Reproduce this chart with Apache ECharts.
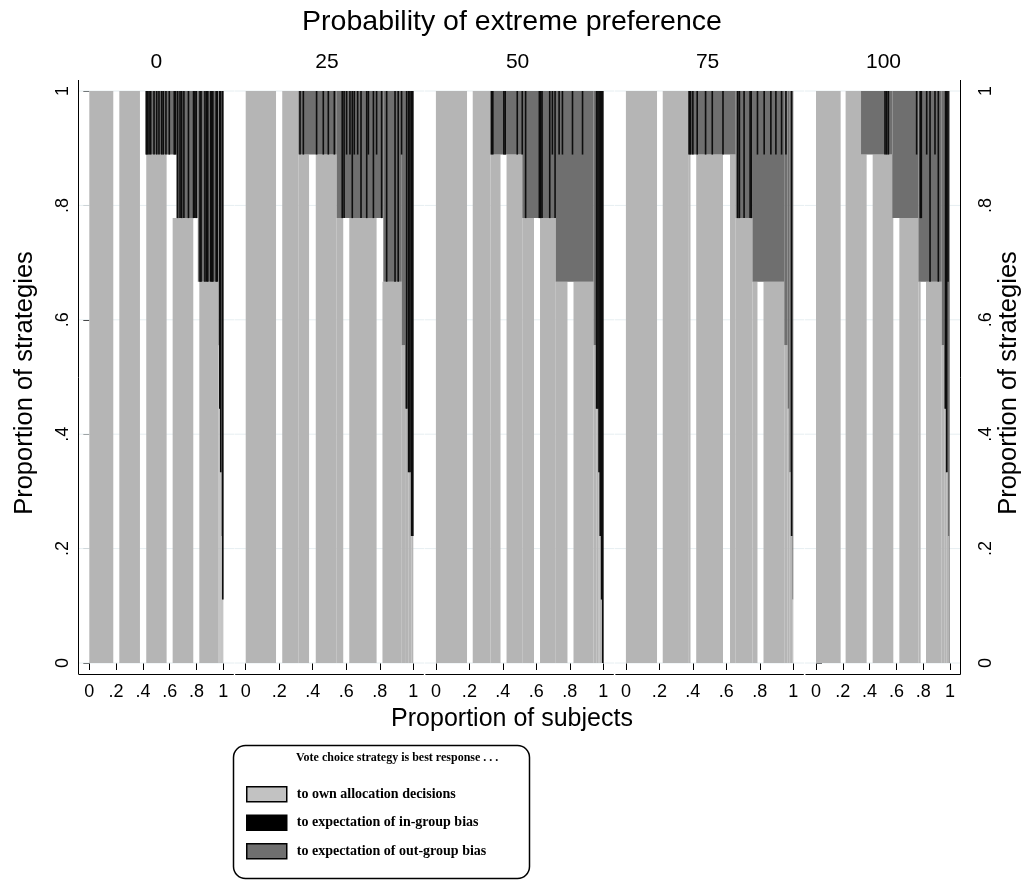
<!DOCTYPE html>
<html>
<head>
<meta charset="utf-8">
<script src="https://cdn.jsdelivr.net/npm/echarts@6.0.0/dist/echarts.min.js"></script>
<style>
html,body{margin:0;padding:0;background:#fff;}
#chart{width:1025px;height:880px;}
</style>
</head>
<body>
<div id="chart"></div>
<script>
// ---------------- data ----------------
const mainTitle = 'Probability of extreme preference';
const panelTitles = ['0', '25', '50', '75', '100'];
const tickValues = [0, 0.2, 0.4, 0.6, 0.8, 1];
const tickLabels = ['0', '.2', '.4', '.6', '.8', '1'];
const xTitle = 'Proportion of subjects';
const yTitle = 'Proportion of strategies';
const legendTitle = 'Vote choice strategy is best response . . .';
const seriesNames = ['to own allocation decisions', 'to expectation of in-group bias', 'to expectation of out-group bias'];
const STRATEGIES = 9;

// own allocation (light): [x from, x to, strategies (of 9)] bar from 0 up to strategies/9
const own0 = [[0,0.179,9],[0.224,0.378,9],[0.425,0.577,8],[0.622,0.776,7],[0.821,0.963,6],[0.963,0.971,5],[0.971,0.978,4],[0.978,0.985,3],[0.985,0.993,2],[0.993,1,1]];
const own25 = [[0,0.181,9],[0.218,0.314,9],[0.314,0.378,8],[0.418,0.543,8],[0.543,0.582,7],[0.618,0.781,7],[0.816,0.931,6],[0.931,0.951,5],[0.951,0.97,4],[0.97,0.99,3],[0.99,1,2]];
const own50 = [[0,0.186,9],[0.22,0.326,9],[0.326,0.386,8],[0.422,0.516,8],[0.516,0.586,7],[0.622,0.716,7],[0.716,0.786,6],[0.822,0.942,6],[0.942,0.958,5],[0.958,0.97,4],[0.97,0.978,3],[0.978,0.986,2],[0.986,0.993,1]];
const own75 = [[0,0.186,9],[0.22,0.372,9],[0.372,0.386,8],[0.42,0.58,8],[0.622,0.656,8],[0.656,0.756,7],[0.756,0.786,6],[0.822,0.946,6],[0.946,0.966,5],[0.966,0.976,4],[0.976,0.986,3],[0.986,0.994,2],[0.994,1,1]];
const own100 = [[0,0.184,9],[0.221,0.336,9],[0.336,0.378,8],[0.423,0.577,8],[0.622,0.764,7],[0.764,0.781,6],[0.821,0.938,6],[0.938,0.957,5],[0.957,0.972,4],[0.972,0.985,3],[0.985,0.996,2]];

// out-group (dark gray): [x from, x to, own strategies (of 9)] filled from own/9 up to 1
const out0 = [[0.42,0.65,8],[0.65,0.81,7],[0.81,0.963,6],[0.963,0.971,5],[0.971,0.978,4],[0.978,0.985,3],[0.985,0.993,2],[0.993,1,1]];
const out25 = [[0.314,0.543,8],[0.543,0.821,7],[0.821,0.931,6],[0.931,0.951,5],[0.951,0.97,4],[0.97,0.99,3],[0.99,1,2]];
const out50 = [[0.326,0.516,8],[0.516,0.716,7],[0.716,0.942,6],[0.942,0.958,5],[0.958,0.97,4],[0.97,0.978,3],[0.978,0.986,2],[0.986,0.993,1],[0.993,1,0]];
const out75 = [[0.372,0.656,8],[0.656,0.756,7],[0.756,0.946,6],[0.946,0.966,5],[0.966,0.976,4],[0.976,0.986,3],[0.986,0.994,2],[0.994,1,1]];
const out100 = [[0.336,0.57,8],[0.57,0.764,7],[0.764,0.938,6],[0.938,0.957,5],[0.957,0.972,4],[0.972,0.985,3],[0.985,0.996,2],[0.996,1,0]];

// in-group (black) single-subject columns: [x, from (of 9), to (of 9)]
const in0 = [[0.426,8,9],[0.434,8,9],[0.446,8,9],[0.458,8,9],[0.483,8,9],[0.503,8,9],[0.52,8,9],[0.54,8,9],[0.552,8,9],[0.572,8,9],[0.597,8,9],[0.634,8,9],[0.644,8,9],[0.659,7,9],[0.677,7,9],[0.689,7,9],[0.706,7,9],[0.74,7,9],[0.778,7,9],[0.788,7,9],[0.798,7,9],[0.826,6,9],[0.834,6,9],[0.863,6,9],[0.876,6,9],[0.884,6,9],[0.906,6,9],[0.914,6,9],[0.922,6,9],[0.947,6,9],[0.955,6,9],[0.974,4,9],[0.981,3,9],[0.996,1,9]];
const in25 = [[0.324,8,9],[0.344,8,9],[0.423,8,9],[0.463,8,9],[0.493,8,9],[0.529,8,9],[0.576,7,9],[0.587,7,9],[0.602,8,9],[0.622,8,9],[0.636,7,9],[0.648,8,9],[0.668,8,9],[0.688,7,9],[0.722,7,9],[0.732,8,9],[0.762,7,9],[0.781,8,9],[0.811,7,9],[0.841,6,9],[0.891,6,9],[0.91,6,9],[0.93,8,9],[0.96,4,9],[0.972,3,9],[0.98,3,9],[0.99,2,9],[0.997,2,9]];
const in50 = [[0.332,8,9],[0.34,8,9],[0.406,8,9],[0.414,8,9],[0.486,8,9],[0.516,8,9],[0.536,7,9],[0.618,7,9],[0.626,7,9],[0.634,7,9],[0.68,7,9],[0.696,8,9],[0.712,7,9],[0.736,8,9],[0.756,8,9],[0.816,8,9],[0.876,8,9],[0.96,4,9],[0.968,4,9],[0.975,3,9],[0.982,2,9],[0.99,1,9],[0.997,0,9]];
const in75 = [[0.378,8,9],[0.386,8,9],[0.4,8,9],[0.426,8,9],[0.476,8,9],[0.516,8,9],[0.58,8,9],[0.668,7,9],[0.678,7,9],[0.706,7,9],[0.742,7,9],[0.75,7,9],[0.786,8,9],[0.826,8,9],[0.866,8,9],[0.896,8,9],[0.93,8,9],[0.956,8,9],[0.99,2,9]];
const in100 = [[0.515,8,9],[0.527,8,9],[0.54,8,9],[0.751,8,9],[0.778,7,9],[0.786,7,9],[0.826,8,9],[0.851,6,9],[0.888,8,9],[0.913,6,9],[0.966,4,9],[0.975,3,9],[0.985,6,9]];

const ownData = [own0, own25, own50, own75, own100];
const outData = [out0, out25, out50, out75, out100];
const inData = [in0, in25, in50, in75, in100];

// ---------------- layout / style ----------------
const SANS = '"Liberation Sans", Arial, Helvetica, sans-serif';
const SERIF = '"Liberation Serif", "Times New Roman", serif';
const COLORS = { own: '#b5b5b5', ownLegend: '#c2c2c2', inG: '#0d0d0d', outG: '#6f6f6f', grid: '#e6eef1' };
const panelLayout = [
  { left: 89.3, width: 134, titleShift: 0 },
  { left: 245.7, width: 167.6, titleShift: -2.5 },
  { left: 435.9, width: 167.4, titleShift: -2 },
  { left: 625.9, width: 167.4, titleShift: -2 },
  { left: 816, width: 134, titleShift: 0.5 }
];
const PLOT_TOP = 91, PLOT_H = 572, PAD = 11;

function tickLabel(v) {
  let best = 0;
  tickValues.forEach((t, i) => { if (Math.abs(t - v) < Math.abs(tickValues[best] - v)) best = i; });
  return tickLabels[best];
}

function ownRender(params, api) {
  const tl = api.coord([api.value(0), api.value(2) / STRATEGIES]);
  const br = api.coord([api.value(1), 0]);
  return { type: 'rect', shape: { x: tl[0], y: tl[1], width: br[0] - tl[0], height: br[1] - tl[1] },
    style: { fill: COLORS.own } };
}
function outRender(params, api) {
  const tl = api.coord([api.value(0), 1]);
  const br = api.coord([api.value(1), api.value(2) / STRATEGIES]);
  return { type: 'rect', shape: { x: tl[0], y: tl[1], width: br[0] - tl[0], height: br[1] - tl[1] },
    style: { fill: COLORS.outG } };
}
function inRender(params, api) {
  const top = api.coord([api.value(0), api.value(2) / STRATEGIES]);
  const bot = api.coord([api.value(0), api.value(1) / STRATEGIES]);
  return { type: 'rect', shape: { x: top[0] - 0.8, y: top[1], width: 1.6, height: bot[1] - top[1] },
    style: { fill: COLORS.inG } };
}
function gridRender(params, api) {
  const cs = params.coordSys;
  const y = api.coord([0, api.value(0)])[1];
  return { type: 'line', shape: { x1: cs.x - PAD, y1: y, x2: cs.x + cs.width + PAD, y2: y },
    style: { stroke: COLORS.grid, lineWidth: 1 } };
}
function frameRender(idx) {
  return function (params, api) {
    const cs = params.coordSys;
    const yb = cs.y + cs.height + PAD + 0.5;
    const children = [{ type: 'line', shape: { x1: cs.x - PAD + 0.5, y1: yb, x2: cs.x + cs.width + PAD - 0.5, y2: yb },
      style: { stroke: '#000', lineWidth: 1 } }];
    if (idx === 0) {
      const xl = Math.round(cs.x - PAD) + 0.5;
      children.push({ type: 'line', shape: { x1: xl, y1: cs.y - PAD, x2: xl, y2: yb }, style: { stroke: '#000', lineWidth: 1 } });
    }
    if (idx === 4) {
      const xr = Math.round(cs.x + cs.width + PAD) - 0.5;
      children.push({ type: 'line', shape: { x1: xr, y1: cs.y - PAD, x2: xr, y2: yb }, style: { stroke: '#000', lineWidth: 1 } });
    }
    return { type: 'group', children };
  };
}

const grids = [], xAxes = [], yAxes = [], series = [], graphics = [];
panelLayout.forEach((p, i) => {
  grids.push({ left: p.left, top: PLOT_TOP, width: p.width, height: PLOT_H });
  xAxes.push({
    gridIndex: i, type: 'value', min: 0, max: 1, interval: 0.2, offset: PAD,
    axisLine: { show: false }, splitLine: { show: false },
    axisTick: { show: true, length: 7, lineStyle: { color: '#000', width: 1 } },
    axisLabel: { show: true, margin: 9, fontSize: 18, fontFamily: SANS, color: '#000', formatter: tickLabel }
  });
  const showY = (i === 0 || i === 4);
  yAxes.push({
    gridIndex: i, type: 'value', min: 0, max: 1, interval: 0.2, offset: PAD,
    position: i === 4 ? 'right' : 'left', show: showY,
    axisLine: { show: false }, splitLine: { show: false },
    axisTick: { show: true, length: 6, lineStyle: { color: '#000', width: 1 } },
    axisLabel: { show: true, rotate: 90, margin: i === 4 ? 16 : 6, fontSize: 18, fontFamily: SANS, color: '#000', formatter: tickLabel }
  });
  series.push({ type: 'custom', name: 'grid' + i, xAxisIndex: i, yAxisIndex: i, z: 1, silent: true,
    renderItem: gridRender, data: tickValues.map(v => [v]) });
  series.push({ type: 'custom', name: seriesNames[0], xAxisIndex: i, yAxisIndex: i, z: 2,
    itemStyle: { color: COLORS.ownLegend }, renderItem: ownRender, data: ownData[i] });
  series.push({ type: 'custom', name: seriesNames[2], xAxisIndex: i, yAxisIndex: i, z: 3,
    itemStyle: { color: COLORS.outG }, renderItem: outRender, data: outData[i] });
  series.push({ type: 'custom', name: seriesNames[1], xAxisIndex: i, yAxisIndex: i, z: 4,
    itemStyle: { color: '#000' }, renderItem: inRender, data: inData[i] });
  series.push({ type: 'custom', name: 'frame' + i, xAxisIndex: i, yAxisIndex: i, z: 5, silent: true,
    renderItem: frameRender(i), data: [[0]] });
  graphics.push({ type: 'text', x: p.left + p.width / 2 + p.titleShift, y: 62,
    style: { text: panelTitles[i], font: '21px ' + SANS, fill: '#000', align: 'center', verticalAlign: 'middle' } });
});

graphics.push({ type: 'text', x: 512, y: 22, style: { text: mainTitle, font: '28.5px ' + SANS, fill: '#000', align: 'center', verticalAlign: 'middle' } });
graphics.push({ type: 'text', x: 512, y: 719, style: { text: xTitle, font: '25px ' + SANS, fill: '#000', align: 'center', verticalAlign: 'middle' } });
graphics.push({ type: 'text', x: 25, y: 383, rotation: Math.PI / 2, style: { text: yTitle, font: '25.5px ' + SANS, fill: '#000', align: 'center', verticalAlign: 'middle' } });
graphics.push({ type: 'text', x: 1009, y: 383, rotation: Math.PI / 2, style: { text: yTitle, font: '25.5px ' + SANS, fill: '#000', align: 'center', verticalAlign: 'middle' } });
// legend box
graphics.push({ type: 'rect', shape: { x: 233.5, y: 745.5, width: 296, height: 133, r: 12 }, style: { fill: 'none', stroke: '#000', lineWidth: 1.5 } });
graphics.push({ type: 'text', x: 296, y: 758, style: { text: legendTitle, font: 'bold 12px ' + SERIF, fill: '#000', align: 'left', verticalAlign: 'middle' } });

const option = {
  animation: false,
  backgroundColor: '#fff',
  grid: grids, xAxis: xAxes, yAxis: yAxes, series,
  legend: {
    data: [seriesNames[0], seriesNames[1], seriesNames[2]],
    orient: 'vertical', left: 241, top: 781, itemWidth: 40, itemHeight: 15, itemGap: 12,
    icon: 'rect', selectedMode: false,
    itemStyle: { borderColor: '#000', borderWidth: 1.5 },
    textStyle: { fontFamily: SERIF, fontWeight: 'bold', fontSize: 14, color: '#000', padding: [0, 0, 0, 5] }
  },
  graphic: graphics
};
const chart = echarts.init(document.getElementById('chart'), null, { renderer: 'canvas' });
chart.setOption(option);
</script>
</body>
</html>
